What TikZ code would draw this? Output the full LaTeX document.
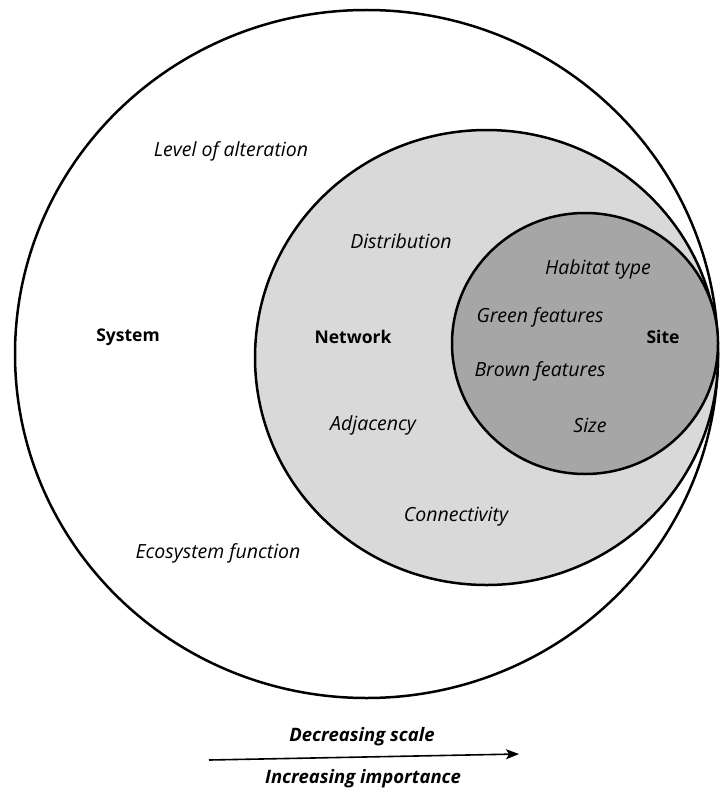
\documentclass[tikz,border=0pt]{standalone}
\usepackage{fontspec}
\setmainfont{Open Sans}
\usetikzlibrary{arrows.meta}
\definecolor{netgray}{HTML}{D9D9D9}
\definecolor{sitegray}{HTML}{A6A6A6}
\tikzset{
  ring/.style={draw=black, line width=2.5pt},
  tag/.style={font=\fontsize{19.5}{23}\selectfont\itshape, inner sep=0pt},
  level/.style={font=\fontsize{17.5}{21}\selectfont\bfseries, inner sep=0pt},
  caption/.style={font=\fontsize{18.5}{22}\selectfont\bfseries\itshape, inner sep=0pt}
}
\begin{document}
\begin{tikzpicture}[x=1pt, y=-1pt]
  \useasboundingbox (0,0) rectangle (721,789);
  % nested scales
  \draw[ring, fill=white] (366.5,354) ellipse [x radius=351.5, y radius=344];
  \draw[ring, fill=netgray] (486.5,357.5) ellipse [x radius=231.5, y radius=227.5];
  \draw[ring, fill=sitegray] (585,343.5) ellipse [x radius=133, y radius=130.5];

  % level names
  \node[level] (system) at (128,337) {System};
  \node[level] (network) at (353,337) {Network};
  \node[level] (site) at (663,337) {Site};

  % attributes of each level
  \node[tag] (alteration) at (231,151) {Level of alteration};
  \node[tag] (ecofunc) at (218,553) {Ecosystem function};
  \node[tag] (distribution) at (401,241) {Distribution};
  \node[tag] (adjacency) at (373,425) {Adjacency};
  \node[tag] (connectivity) at (456,517) {Connectivity};
  \node[tag] (habitat) at (598,269) {Habitat type};
  \node[tag] (green) at (540,317) {Green features};
  \node[tag] (brown) at (540,371) {Brown features};
  \node[tag] (size) at (590,425) {Size};

  % direction arrow
  \coordinate (arrowstart) at (209,760);
  \coordinate (arrowend) at (519,754);
  \draw[line width=1.6pt, -{Stealth[length=13pt, width=10pt, inset=3pt]}] (arrowstart) -- (arrowend);
  \node[caption] (decreasing) at (362,737) {Decreasing scale};
  \node[caption] (increasing) at (363,779) {Increasing importance};
\end{tikzpicture}
\end{document}
